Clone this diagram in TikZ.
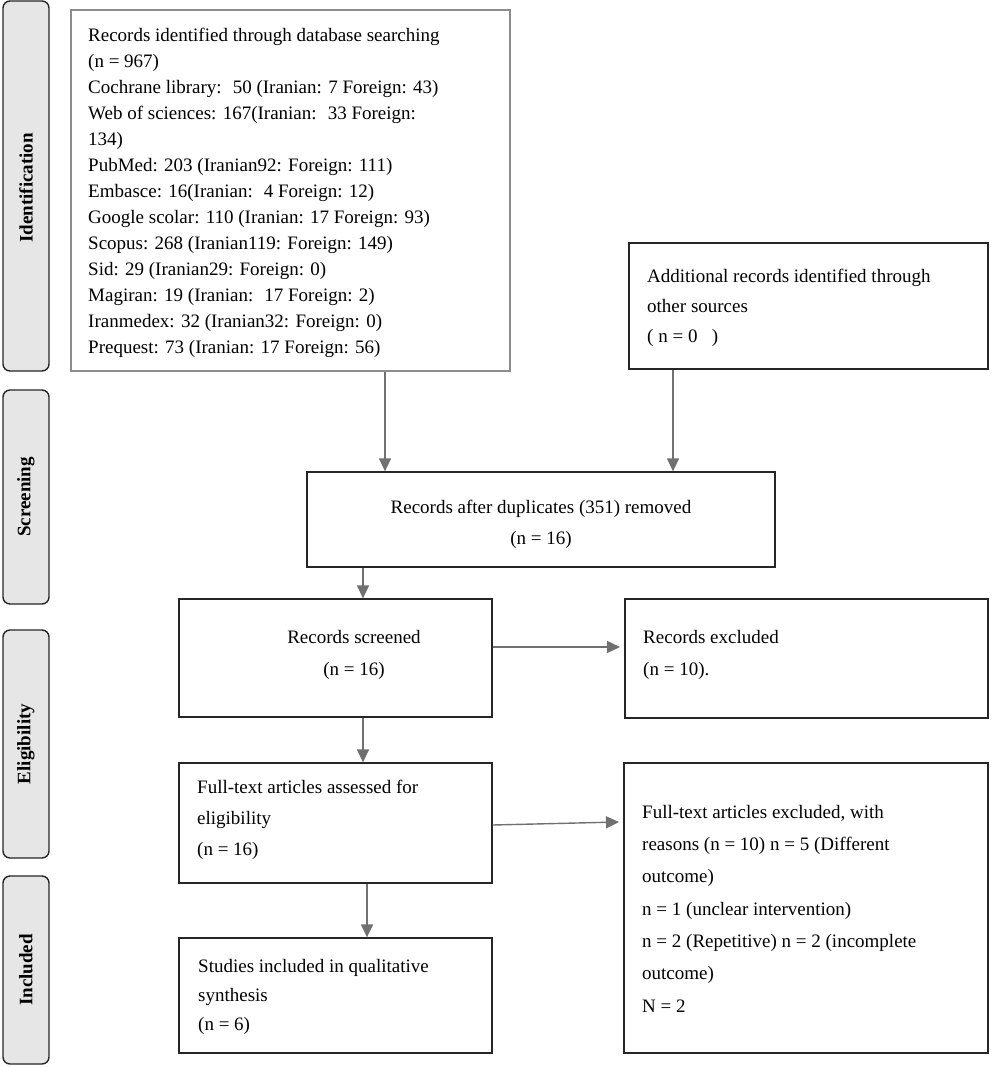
\documentclass[tikz,border=0pt]{standalone}
\usepackage{fontspec}
\setmainfont{Liberation Serif}
\usetikzlibrary{arrows.meta}
\definecolor{arrgray}{HTML}{707070}
\definecolor{topgray}{HTML}{8C8C8C}
\definecolor{sidefill}{HTML}{E6E6E6}
\begin{document}
\begin{tikzpicture}[x=1pt,y=-1pt,
  side/.style={draw=black!85, fill=sidefill, line width=1.4pt, rounded corners=7pt, inner sep=0pt},
  sidetxt/.style={rotate=90, font=\fontsize{19}{22}\selectfont\bfseries, inner sep=0pt},
  box/.style={draw=black!85, line width=1.3pt, inner sep=0pt},
  topbox/.style={draw=topgray, line width=1.5pt, inner sep=0pt},
  txt/.style={inner sep=0pt, align=left, anchor=north west},
  ctxt/.style={inner sep=0pt, align=center},
  arr/.style={draw=arrgray, line width=1.4pt, -{Triangle[length=13pt,width=12pt]}}]
\useasboundingbox (0,0) rectangle (1000,1067);

% side phase labels
\node[side, minimum width=46pt, minimum height=370pt] (sideI) at (26,186) {};
\node[sidetxt] (sideIt) at (26,188) {Identification};
\node[side, minimum width=46pt, minimum height=214pt] (sideS) at (26,497) {};
\node[sidetxt] (sideSt) at (sideS.center) {Screening};
\node[side, minimum width=46pt, minimum height=228pt] (sideE) at (26,744) {};
\node[sidetxt] (sideEt) at (sideE.center) {Eligibility};
\node[side, minimum width=46pt, minimum height=188pt] (sideN) at (26,970) {};
\node[sidetxt] (sideNt) at (sideN.center) {Included};

% boxes
\node[topbox, minimum width=439pt, minimum height=361pt] (rec) at (290.5,190.5) {};
\node[box, minimum width=359pt, minimum height=126pt] (add) at (808.5,306) {};
\node[box, minimum width=468pt, minimum height=95pt] (dup) at (541,519.5) {};
\node[box, minimum width=313pt, minimum height=118pt] (scr) at (335.5,658) {};
\node[box, minimum width=363pt, minimum height=119pt] (exc) at (806.5,658.5) {};
\node[box, minimum width=313pt, minimum height=120pt] (ft) at (335.5,823) {};
\node[box, minimum width=364pt, minimum height=290pt] (ftx) at (806,908) {};
\node[box, minimum width=313pt, minimum height=115pt] (inc) at (335.5,995.5) {};

% texts
\node[txt, font=\fontsize{19}{26}\selectfont] (recT) at (88,28) {Records identified through database searching\\
(n = 967)\\
Cochrane library:~ 50 (Iranian: 7 Foreign: 43)\\
Web of sciences: 167(Iranian:~ 33 Foreign:\\
134)\\
PubMed: 203 (Iranian92: Foreign: 111)\\
Embasce: 16(Iranian:~ 4 Foreign: 12)\\
Google scolar: 110 (Iranian: 17 Foreign: 93)\\
Scopus: 268 (Iranian119: Foreign: 149)\\
Sid: 29 (Iranian29: Foreign: 0)\\
Magiran: 19 (Iranian:~ 17 Foreign: 2)\\
Iranmedex: 32 (Iranian32: Foreign: 0)\\
Prequest: 73 (Iranian: 17 Foreign: 56)};

\node[txt, font=\fontsize{19}{30}\selectfont] (addT) at (647,269) {Additional records identified through\\
other sources\\
( n = 0 ~ )};

\node[ctxt, font=\fontsize{19}{31}\selectfont] (dupT) at (541,524) {Records after duplicates (351) removed\\
(n = 16)};

\node[ctxt, font=\fontsize{19}{32}\selectfont] (scrT) at (354,655) {Records screened\\
(n = 16)};

\node[txt, font=\fontsize{19}{32}\selectfont] (excT) at (643,630) {Records excluded\\
(n = 10).};

\node[txt, font=\fontsize{19}{31}\selectfont] (ftT) at (197,780) {Full-text articles assessed for\\
eligibility\\
(n = 16)};

\node[txt, font=\fontsize{19}{32.3}\selectfont] (ftxT) at (642,805) {Full-text articles excluded, with\\
reasons (n = 10) n = 5 (Different\\
outcome)\\
n = 1 (unclear intervention)\\
n = 2 (Repetitive) n = 2 (incomplete\\
outcome)\\
N = 2};

\node[txt, font=\fontsize{19}{29}\selectfont] (incT) at (198,959) {Studies included in qualitative\\
synthesis\\
(n = 6)};

% connector guides
\coordinate (c1) at (385,0);
\coordinate (c2) at (673,0);
\coordinate (c3) at (363,0);
\coordinate (c4) at (367,0);
\coordinate (r1) at (0,647);
\coordinate (r2s) at (0,825);
\coordinate (r2e) at (0,822);
\coordinate (gapE) at (620,0);
\coordinate (gapX) at (619,0);

\draw[arr] (rec.south -| c1) -- (dup.north -| c1);
\draw[arr] (add.south -| c2) -- (dup.north -| c2);
\draw[arr] (dup.south -| c3) -- (scr.north -| c3);
\draw[arr] (scr.east |- r1) -- (gapE |- r1);
\draw[arr] (scr.south -| c3) -- (ft.north -| c3);
\draw[arr] (ft.east |- r2s) -- (gapX |- r2e);
\draw[arr] (ft.south -| c4) -- (inc.north -| c4);
\end{tikzpicture}
\end{document}
